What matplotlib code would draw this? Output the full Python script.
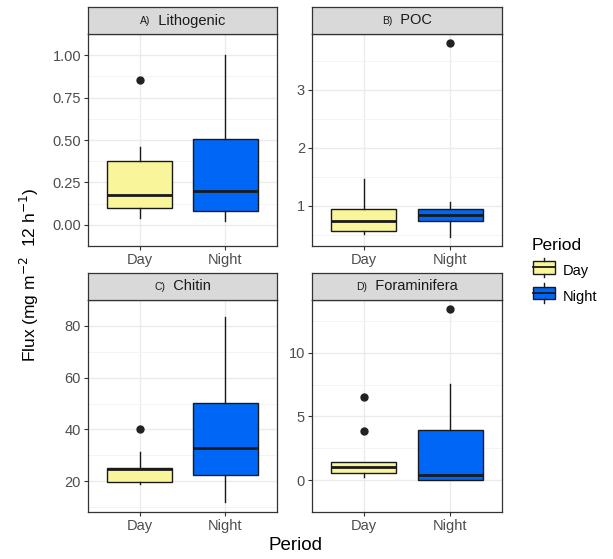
import numpy as np
import matplotlib
matplotlib.use('Agg')
import matplotlib.pyplot as plt
from matplotlib.patches import Rectangle
from matplotlib.lines import Line2D
from matplotlib.legend_handler import HandlerBase

plt.rcParams['font.family'] = ['Liberation Sans', 'DejaVu Sans']

# ---- data ----
periods = ['Day', 'Night']
panels = ['Lithogenic', 'POC', 'Chitin', 'Foraminifera']
letters = ['A)', 'B)', 'C)', 'D)']

# per panel: [Day, Night]
q1 = [[0.10, 0.082], [0.57, 0.74], [19.6, 22.3], [0.59, 0.0]]
med = [[0.175, 0.199], [0.74, 0.84], [24.8, 32.9], [1.02, 0.40]]
q3 = [[0.378, 0.507], [0.943, 0.94], [25.1, 50.1], [1.40, 3.90]]
wlo = [[0.042, 0.02], [0.507, 0.466], [19.1, 11.9], [0.28, 0.0]]
whi = [[0.459, 1.00], [1.46, 1.064], [31.3, 83.3], [1.40, 7.56]]
outliers = [[[0.854], []], [[], [3.80]], [[40.2], []], [[6.49, 3.88], [13.44]]]

yticks = [[0.00, 0.25, 0.50, 0.75, 1.00], [1, 2, 3], [20, 40, 60, 80], [0, 5, 10]]
ytick_fmt = ['%.2f', '%d', '%d', '%d']
ylims = [(-0.031, 1.051), (0.305, 3.96), (8.1, 87.1), (-0.67, 14.14)]

fills = ['#F8F59B', '#0066F5']
dark = '#1a1a1a'

W, H = 613, 559
fig = plt.figure(figsize=(W / 100, H / 100), dpi=100)

# pixel boxes (left, right) and (strip top, plot top, plot bottom)
cols = [(88, 277), (312, 502)]
rows = [(7, 34, 246), (273, 300, 512)]


def px_axes(l, r, t, b):
    return fig.add_axes([l / W, 1 - b / H, (r - l) / W, (b - t) / H])


for i, name in enumerate(panels):
    l, r = cols[i % 2]
    st, pt, pb = rows[i // 2]
    ax = px_axes(l, r, pt, pb)
    stats = []
    for j in range(2):
        stats.append(dict(med=med[i][j], q1=q1[i][j], q3=q3[i][j],
                          whislo=wlo[i][j], whishi=whi[i][j],
                          fliers=outliers[i][j], label=periods[j]))
    bp = ax.bxp(stats, positions=[1, 2], widths=0.75, patch_artist=True,
                showcaps=False,
                boxprops=dict(edgecolor=dark, linewidth=1.0),
                medianprops=dict(color=dark, linewidth=2.0, solid_capstyle='butt'),
                whiskerprops=dict(color=dark, linewidth=1.0),
                flierprops=dict(marker='o', markerfacecolor='#222222',
                                markeredgecolor='#222222', markersize=5))
    for patch, c in zip(bp['boxes'], fills):
        patch.set_facecolor(c)
    ax.set_xlim(0.4, 2.6)
    ax.set_ylim(*ylims[i])
    ax.set_yticks(yticks[i])
    ax.set_yticklabels([ytick_fmt[i] % v for v in yticks[i]])
    ax.set_xticks([1, 2])
    ax.set_xticklabels(periods)
    # minor grid at midpoints
    yt = yticks[i]
    step = yt[1] - yt[0]
    minors = [v - step / 2 for v in yt] + [yt[-1] + step / 2]
    ax.set_yticks(minors, minor=True)
    ax.tick_params(axis='y', which='minor', length=0)
    ax.grid(True, which='major', color='#EBEBEB', linewidth=1.0)
    ax.grid(True, which='minor', axis='y', color='#F3F3F3', linewidth=0.6)
    ax.set_axisbelow(True)
    ax.tick_params(axis='both', which='major', length=3, width=0.8, color='#333333',
                   labelcolor='#4D4D4D', labelsize=10.5, pad=2)
    for s in ax.spines.values():
        s.set_color('#333333')
        s.set_linewidth(0.9)

    # strip
    sax = px_axes(l, r, st, pt)
    sax.set_facecolor('#D9D9D9')
    sax.set_xticks([])
    sax.set_yticks([])
    for s in sax.spines.values():
        s.set_color('#333333')
        s.set_linewidth(0.9)
    t1 = sax.text(0.5, 0.5, letters[i], fontsize=7.5, color='#1a1a1a',
                  ha='right', va='center', transform=sax.transAxes)
    t2 = sax.text(0.5, 0.5, '  ' + name, fontsize=10.5, color='#1a1a1a',
                  ha='left', va='center', transform=sax.transAxes)
    fig.canvas.draw()
    w1 = t1.get_window_extent().width
    w2 = t2.get_window_extent().width
    sw = sax.get_window_extent().width
    shift = (w1 - w2) / 2 / sw
    t1.set_x(0.5 + shift)
    t2.set_x(0.5 + shift)

fig.text(295 / W, 1 - 545 / H, 'Period', fontsize=13.5, ha='center', va='center')
fig.text(29 / W, 1 - 275 / H, r'Flux (mg m$^{-2}$  12 h$^{-1}$)', fontsize=12.5,
         ha='center', va='center', rotation=90)


class BoxKey(HandlerBase):
    def create_artists(self, legend, orig, xd, yd, w, h, fs, trans):
        c = orig.get_facecolor()
        bw, bh = 16.0, 9.0   # in points (22 x 12 px)
        x0 = xd + (w - bw) / 2
        y0 = yd + (h - bh) / 2
        rect = Rectangle((x0, y0), bw, bh, facecolor=c, edgecolor=dark,
                         linewidth=1.0, transform=trans)
        mid = Line2D([x0, x0 + bw], [y0 + bh / 2] * 2, color=dark, linewidth=1.3,
                     transform=trans)
        top = Line2D([x0 + bw / 2] * 2, [y0 + bh, y0 + bh + 2.5], color=dark,
                     linewidth=1.0, transform=trans)
        bot = Line2D([x0 + bw / 2] * 2, [y0, y0 - 2.5], color=dark,
                     linewidth=1.0, transform=trans)
        return [rect, mid, top, bot]


handles = [Rectangle((0, 0), 1, 1, facecolor=c) for c in fills]
leg = fig.legend(handles, periods, handler_map={Rectangle: BoxKey()},
                 loc='upper left', bbox_to_anchor=(532 / W, 1 - 238 / H),
                 frameon=False, title='Period', fontsize=10.5, title_fontsize=12.5,
                 handlelength=1.6, handleheight=1.0, labelspacing=0.75,
                 handletextpad=0.5, borderaxespad=0, borderpad=0)
leg._legend_box.align = 'left'

fig.savefig('out.png', dpi=100)
